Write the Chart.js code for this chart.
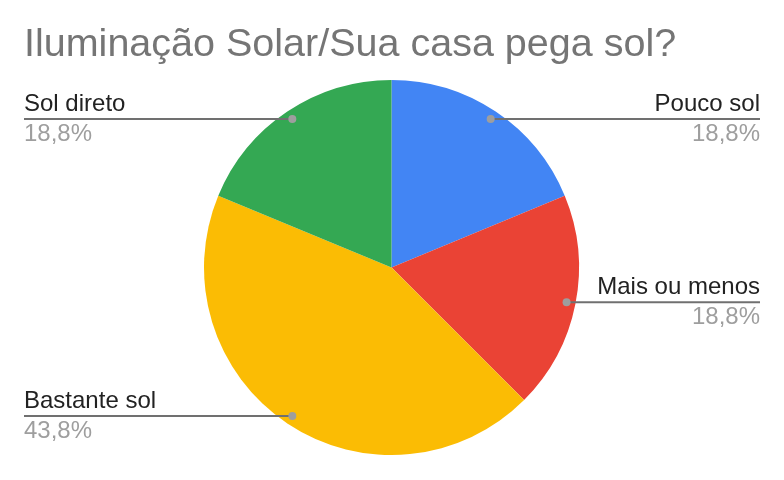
<!DOCTYPE html>
<html>
<head>
<meta charset="utf-8">
<script src="https://cdn.jsdelivr.net/npm/chart.js@4"></script>
<style>
  html, body { margin: 0; padding: 0; background: #fff; }
  #wrap { width: 784px; height: 480px; }
</style>
</head>
<body>
<div id="wrap"><canvas id="myChart" width="784" height="480"></canvas></div>
<script>
const title = 'Iluminação Solar/Sua casa pega sol?';
const labels = ['Pouco sol', 'Mais ou menos', 'Bastante sol', 'Sol direto'];
const values = [3, 3, 7, 3];
const colors = ['#4285F4', '#EA4335', '#FBBC04', '#34A853'];

// draws title + google-style leader labels
const calloutPlugin = {
  id: 'callouts',
  afterDraw(chart) {
    const ctx = chart.ctx;
    const total = values.reduce((a, b) => a + b, 0);
    ctx.save();
    ctx.fillStyle = '#757575';
    ctx.font = '39.5px "Liberation Sans", Arial, sans-serif';
    ctx.textAlign = 'left';
    ctx.textBaseline = 'alphabetic';
    ctx.fillText(title, 24, 56);

    const meta = chart.getDatasetMeta(0);
    meta.data.forEach((arc, i) => {
      const mid = (arc.startAngle + arc.endAngle) / 2;
      const r = arc.outerRadius - 9;
      const dx = arc.x + Math.cos(mid) * r;
      const dy = arc.y + Math.sin(mid) * r;
      const right = Math.cos(mid) >= 0;
      const edge = right ? 760 : 24;

      ctx.strokeStyle = '#707070';
      ctx.lineWidth = 2;
      ctx.beginPath();
      ctx.moveTo(dx, dy);
      ctx.lineTo(edge, dy);
      ctx.stroke();

      ctx.fillStyle = '#9e9e9e';
      ctx.beginPath();
      ctx.arc(dx, dy, 4, 0, Math.PI * 2);
      ctx.fill();

      ctx.textAlign = right ? 'right' : 'left';
      ctx.font = '24px "Liberation Sans", Arial, sans-serif';
      ctx.fillStyle = '#222';
      ctx.fillText(labels[i], edge, dy - 8);
      ctx.fillStyle = '#9e9e9e';
      const pct = (values[i] / total * 100).toFixed(1).replace('.', ',') + '%';
      ctx.fillText(pct, edge, dy + 22);
    });
    ctx.restore();
  }
};

const data = {
  labels: labels,
  datasets: [{
    data: values,
    backgroundColor: colors,
    borderWidth: 0
  }]
};

const config = {
  type: 'pie',
  data,
  options: {
    responsive: false,
    animation: false,
    layout: { padding: { top: 80, bottom: 25, left: 204, right: 205 } },
    plugins: {
      legend: { display: false },
      tooltip: { enabled: false }
    }
  },
  plugins: [calloutPlugin]
};

let chart = new Chart(document.getElementById('myChart'), config);
</script>
</body>
</html>
